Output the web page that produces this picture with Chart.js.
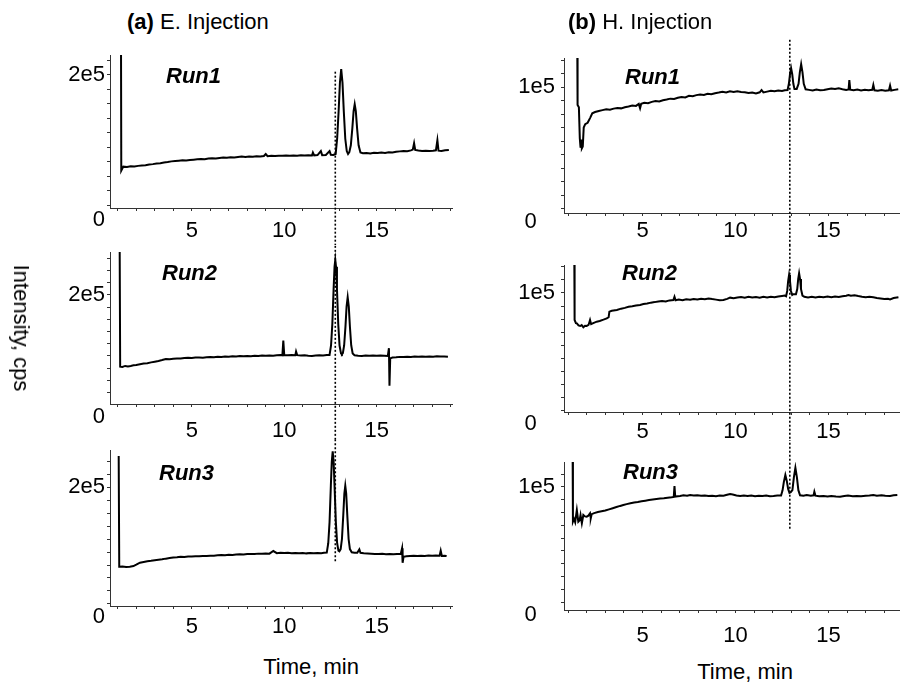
<!DOCTYPE html>
<html>
<head>
<meta charset="utf-8">
<script src="https://cdn.jsdelivr.net/npm/chart.js@4.4.1/dist/chart.umd.min.js"></script>
<style>
  html, body { margin:0; padding:0; background:#fff; width:900px; height:684px; overflow:hidden; }
  body { position:relative; font-family:"Liberation Sans", Arial, sans-serif; color:#000; }
  canvas { position:absolute; }
  .t { position:absolute; white-space:nowrap; font-size:22px; line-height:26px; }
  .run { position:absolute; white-space:nowrap; font-size:22px; line-height:26px; font-weight:bold; font-style:italic; }
</style>
</head>
<body>
<canvas id="e1" width="440" height="205" style="left:30px;top:40px"></canvas>
<canvas id="e2" width="440" height="195" style="left:30px;top:245px"></canvas>
<canvas id="e3" width="440" height="205" style="left:30px;top:440px"></canvas>
<canvas id="h1" width="420" height="215" style="left:480px;top:30px"></canvas>
<canvas id="h2" width="420" height="195" style="left:480px;top:245px"></canvas>
<canvas id="h3" width="420" height="210" style="left:480px;top:440px"></canvas>

<div class="t" style="left:127px;top:9px"><b>(a)</b> E. Injection</div>
<div class="t" style="left:568px;top:9px"><b>(b)</b> H. Injection</div>
<div class="t" style="left:21px;top:328px;transform:translate(-50%,-50%) rotate(90deg)">Intensity, cps</div>
<div class="t" style="left:311px;top:667px;transform:translate(-50%,-50%)">Time, min</div>
<div class="t" style="left:745px;top:672px;transform:translate(-50%,-50%)">Time, min</div>
<div class="run" style="left:166px;top:63px">Run1</div>
<div class="run" style="left:162px;top:260px">Run2</div>
<div class="run" style="left:159px;top:460px">Run3</div>
<div class="run" style="left:625px;top:64px">Run1</div>
<div class="run" style="left:622px;top:260px">Run2</div>
<div class="run" style="left:623px;top:459px">Run3</div>

<script>
// ---------- DATA (time in min, intensity in thousands of cps) ----------
const timeTicks = [1,2,3,4,5,6,7,8,9,10,11,12,13,14,15,16,17,18,19];
const timeTickLabels = [5, 10, 15];
const intensityTicksE = [0,20e3,40e3,60e3,80e3,100e3,120e3,140e3,160e3,180e3,200e3,220e3,240e3,260e3];
const intensityLabelsE = [0, 200e3];
const intensityTicksH = [0,10e3,20e3,30e3,40e3,50e3,60e3,70e3,80e3,90e3,100e3,110e3,120e3];
const intensityLabelsH = [0, 100e3];

const markerTimeE = 12.76;
const markerTimeH = 12.92;
const markerSpanE = [[204.5e3, -1e6], [1e6, -1e6], [1e6, 85e3]];
const markerSpanH = [[135e3, -1e6], [1e6, -1e6], [1e6, 66.4e3]];

const eRun1Time = [1.17,1.19,1.30,1.50,1.70,1.90,2.10,2.30,2.50,2.70,2.90,3.10,3.30,3.50,3.70,3.90,4.10,4.30,4.50,4.70,4.90,5.10,5.30,5.50,5.70,5.90,6.10,6.30,6.50,6.70,6.90,7.10,7.30,7.50,7.70,7.90,8.10,8.30,8.50,8.70,8.90,9.00,9.10,9.30,9.50,9.70,9.90,10.10,10.30,10.50,10.70,10.90,11.10,11.30,11.50,11.55,11.62,11.80,11.98,12.05,12.25,12.45,12.52,12.65,12.78,12.86,12.94,13.01,13.08,13.15,13.22,13.30,13.38,13.45,13.52,13.60,13.68,13.75,13.81,13.87,13.94,14.02,14.12,14.25,14.45,14.65,14.85,15.05,15.25,15.45,15.65,15.85,16.05,16.25,16.45,16.65,16.85,16.95,17.02,17.08,17.25,17.45,17.65,17.85,18.05,18.20,18.28,18.34,18.50,18.70,18.90];
const eRun1Intensity = [300,68,73.5,73,74,73.8,74.6,75,75.5,76.4,77,77.8,78.3,79.2,79.8,80.8,81.2,81.7,82.3,82.1,82.8,83.2,83.6,84.1,83.8,84.7,85,84.8,85.6,86,85.7,86.4,86.2,86.9,87.4,87,87.6,87.3,88,87.6,88.2,91,88,88.5,88.1,88.7,88.4,89,88.5,88.9,88.6,89.2,88.8,89.3,88.9,93,89.1,89.4,95,89.4,89.7,95,89.8,89.6,91,112,150,189,208,189,150,112,95,91,93.5,103,126,150,159.5,150,126,103,93,92,92.5,91.8,92.6,92.2,93,92.5,93.3,92.9,94,94.6,95.2,94.8,96,97,105.8,96.5,95.8,95.2,95.6,95,95.4,96,110,95.5,95,96,96.5];

const eRun2Time = [1.10,1.13,1.25,1.40,1.55,1.70,1.85,2.00,2.20,2.40,2.60,2.80,3.00,3.20,3.40,3.60,3.80,4.00,4.20,4.40,4.60,4.80,5.00,5.20,5.40,5.60,5.80,6.00,6.20,6.40,6.60,6.80,7.00,7.20,7.40,7.60,7.80,8.00,8.20,8.40,8.60,8.80,9.00,9.20,9.40,9.60,9.80,9.90,9.95,10.00,10.20,10.40,10.60,10.64,10.70,10.90,11.10,11.30,11.50,11.70,11.90,12.10,12.30,12.45,12.53,12.60,12.67,12.72,12.76,12.80,12.85,12.92,12.99,13.07,13.12,13.17,13.24,13.31,13.37,13.43,13.49,13.55,13.62,13.70,13.80,14.00,14.20,14.40,14.60,14.80,15.00,15.20,15.40,15.60,15.66,15.69,15.73,15.85,16.05,16.25,16.45,16.65,16.85,17.05,17.25,17.45,17.65,17.85,18.05,18.25,18.45,18.65,18.85];
const eRun2Intensity = [300,82.4,82,83.6,82.8,83.5,84.6,85.2,86.3,87.5,88,89.4,90.6,91.8,93.2,95,94.6,95.3,95.9,95.6,96.4,96.9,96.5,97.2,97.5,97.1,97.8,98.3,97.9,98.6,98.2,98.9,98.8,99.4,99,99.7,99.3,100,99.6,100.3,100,100.5,100.2,100.8,100.4,101.2,101.6,101,125,101.4,101,101.5,101,107,101.2,100.6,101,100.4,100,100.6,101,100.7,101.3,101.5,117,152,210,246,257,246,210,152,117,104,102.7,104.5,117.5,148,180.5,196,180.5,148,117.5,104,101,100.4,100,100.5,100.1,100.6,100.2,100.7,100.3,100,112.6,51.3,96,97.4,97.8,98.4,98.1,98.7,98.4,98.9,98.6,99.1,98.7,99.2,98.8,99.3,98.9,99.2,98.8];

const eRun3Time = [1.05,1.08,1.25,1.45,1.65,1.85,2.00,2.20,2.40,2.60,2.80,3.00,3.20,3.40,3.60,3.80,4.00,4.20,4.40,4.60,4.80,5.00,5.20,5.40,5.60,5.80,6.00,6.20,6.40,6.60,6.80,7.00,7.20,7.40,7.60,7.80,8.00,8.20,8.40,8.60,8.80,9.00,9.20,9.41,9.60,9.80,10.00,10.20,10.40,10.60,10.80,11.00,11.20,11.40,11.60,11.80,12.00,12.15,12.30,12.38,12.45,12.52,12.57,12.62,12.67,12.72,12.79,12.86,12.93,12.98,13.05,13.12,13.19,13.25,13.30,13.35,13.41,13.48,13.55,13.65,13.80,13.95,14.06,14.12,14.30,14.50,14.70,14.90,15.10,15.30,15.50,15.70,15.90,16.10,16.30,16.37,16.40,16.45,16.60,16.80,17.00,17.20,17.40,17.60,17.80,18.00,18.20,18.40,18.46,18.52,18.65,18.78];
const eRun3Intensity = [247.6,77.4,77.8,77,77.4,78.4,80.5,83.5,84.6,85.8,86.5,87.4,88,88.7,89.8,90.6,91.5,92,92.7,92.4,93.2,93,93.6,93.3,94,93.8,94.4,94.3,94.9,95.4,95,95.8,95.5,96.1,96.6,96.2,96.9,97.1,96.8,97.5,97.2,97.8,97.4,101.5,98.2,98.9,98.4,98.8,98.2,98.6,98,98.4,97.9,98.3,98,98.5,98.2,98.8,99,113.5,146,202,239,255,239,202,146,113.5,102,101,104.5,120,156,190,202,190,156,120,104.5,99.5,99,98.9,104,98.8,98.2,97.8,97.4,97.1,96.9,97.2,96.7,97,96.5,96.9,97,105.6,83.5,92.7,93.4,94,94.3,93.8,94.4,94,94.5,94.1,94.6,94.3,102,94,94.4,93.8];

const hRun1Time = [1.49,1.51,1.58,1.63,1.67,1.71,1.74,1.79,1.84,1.92,2.05,2.18,2.30,2.45,2.65,2.85,3.05,3.25,3.45,3.65,3.85,4.05,4.25,4.45,4.65,4.80,4.87,4.93,5.10,5.30,5.50,5.70,5.90,6.10,6.30,6.50,6.70,6.90,7.10,7.30,7.50,7.70,7.90,8.10,8.30,8.50,8.70,8.90,9.10,9.30,9.50,9.70,9.90,10.10,10.30,10.50,10.70,10.90,11.10,11.30,11.40,11.50,11.70,11.90,12.10,12.30,12.50,12.65,12.80,12.87,12.93,12.99,13.05,13.11,13.17,13.29,13.39,13.46,13.53,13.60,13.67,13.77,13.95,14.15,14.35,14.55,14.75,14.95,15.15,15.35,15.55,15.75,15.95,16.08,16.12,16.17,16.35,16.55,16.75,16.95,17.15,17.35,17.41,17.47,17.65,17.85,18.05,18.25,18.31,18.37,18.55,18.75];
const hRun1Intensity = [140,86.7,85,62,55,61,54.6,56,70,72.5,73.5,77,80.5,81.5,82.3,82.9,83.5,83.2,84,84.5,84.2,85,85.6,86.3,86,87.5,84.3,87.6,88.3,88,89,89.6,89.3,90.2,90.7,91.4,91.1,92,92.6,92.3,93.5,93.2,94,94.4,94.1,95,94.6,95.4,95.9,96.5,96,96.8,96.3,96.9,96.4,96.1,95.6,95.9,95.2,96.1,97.8,96,96.6,97.2,96.8,97.4,97.1,97.6,97.8,102.4,109.5,113.9,109.5,102.4,98.5,98.6,102.4,111,116.9,111,102.4,98.3,97.9,97.4,98.1,97.6,97.8,98.4,98.9,98.5,99,98.4,97.9,98.2,105.2,98,97.6,98.1,97.5,98,97.6,97.9,101.5,97.6,97.2,97.8,97.3,97.6,101,97.4,97.9,98.3];

const hRun2Time = [1.33,1.35,1.42,1.47,1.56,1.65,1.73,1.82,1.91,2.00,2.10,2.18,2.24,2.35,2.54,2.70,2.90,3.08,3.18,3.22,3.35,3.62,3.85,4.05,4.25,4.45,4.65,4.87,5.05,5.25,5.45,5.65,5.85,6.05,6.25,6.45,6.66,6.72,6.78,6.95,7.15,7.35,7.56,7.75,7.95,8.15,8.35,8.55,8.75,8.95,9.15,9.35,9.55,9.71,9.90,10.10,10.30,10.50,10.70,10.90,11.10,11.30,11.50,11.70,11.90,12.10,12.30,12.50,12.65,12.72,12.78,12.83,12.88,12.93,12.98,13.05,13.11,13.25,13.32,13.37,13.42,13.47,13.52,13.60,13.70,13.90,14.10,14.30,14.50,14.73,14.95,15.15,15.35,15.55,15.75,15.95,16.07,16.20,16.40,16.60,16.80,17.00,17.20,17.41,17.60,17.80,18.00,18.20,18.31,18.50,18.76];
const hRun2Intensity = [140,79.4,77,76.8,75.2,74.8,75.5,73.8,75,74.8,75.6,79.4,76.2,77,78.1,78.6,79.6,80.6,81.5,85.7,86.4,87,88,88.6,89.5,89.9,90.4,90.8,91.5,92,92.6,93,93.5,93.8,93.5,94.3,94.6,97.1,94.4,94.9,94.5,95.2,94.8,95.4,95,95.6,95.2,95.8,95.3,94.9,94.5,94.6,95.5,96.4,96,96.5,96.9,96.4,97,96.5,96.9,96.4,97,96.6,97.1,96.7,97.3,97.7,98,97.5,101.5,109,113.7,109,101.5,98.5,99,99,103,110.6,115,110.6,103,98,97.1,96.6,97,96.5,97.1,96.7,97.2,96.8,97.3,96.9,97.4,97.9,98.4,97.8,98.2,97.6,97.1,96.8,97,96.7,96.2,95.8,95.3,95.6,95.1,96.1,96.7];

const hRun3Time = [1.24,1.26,1.32,1.38,1.47,1.55,1.62,1.67,1.74,1.82,1.91,2.00,2.09,2.18,2.22,2.27,2.40,2.60,2.80,3.00,3.20,3.40,3.60,3.80,3.97,4.15,4.35,4.55,4.75,4.95,5.15,5.35,5.55,5.75,5.95,6.15,6.35,6.57,6.68,6.72,6.76,6.90,7.02,7.20,7.40,7.56,7.75,7.95,8.15,8.35,8.55,8.75,8.95,9.15,9.35,9.55,9.71,9.85,10.05,10.25,10.45,10.65,10.85,11.05,11.25,11.45,11.65,11.85,12.04,12.25,12.45,12.53,12.60,12.68,12.76,12.83,12.90,12.97,13.06,13.14,13.22,13.30,13.38,13.47,13.65,13.83,14.05,14.20,14.24,14.30,14.50,14.73,14.95,15.15,15.40,15.62,15.85,16.05,16.30,16.52,16.75,17.00,17.20,17.41,17.60,17.85,18.05,18.31,18.50,18.70];
const hRun3Intensity = [140,72.9,75,72.5,82,72.9,74,78.1,71.6,78.1,77,76.8,77.6,79.4,75.6,78.8,79.6,80.4,81,81.6,82.5,83.4,84.3,85.2,85.9,86.6,87.2,87.8,88.2,88.8,89.3,89.8,90.2,90.6,91,91.2,91.6,91.9,92.2,100.7,92.5,92.8,93,93.5,93.2,93.7,93.3,93.6,93.1,93.4,92.9,93.2,92.8,93.3,93.1,93.9,94.5,94.1,93.3,93,93.4,92.9,93.3,92.8,93.2,92.9,93.3,92.8,93,93.3,93.3,97.4,104,109.3,104.5,98.5,95.5,96,97.6,107.7,115,107.7,97.5,93.5,93.2,93.7,93.2,93.5,96.3,93.2,92.8,93,92.5,93,92.6,92.4,92.9,93.3,92.8,93,92.7,93.2,93.4,93.7,93.2,93.6,93.1,93,93.5,93.7];

// ---------- CHART BUILDER ----------
const FONT = { family: '"Liberation Sans", Arial, sans-serif', size: 22 };
const INK = '#000';
const AXIS = '#333';

function zeroPad(s) { s.paddingTop = 0; s.paddingBottom = 0; s.paddingLeft = 0; s.paddingRight = 0; }

function panel(id, p) {
  const pts = p.time.map((t, i) => ({ x: t, y: p.kcps[i] * 1000 }));
  new Chart(document.getElementById(id), {
    type: 'line',
    data: {
      datasets: [
        { data: pts, borderColor: INK, borderWidth: 2, pointRadius: 0, tension: 0, fill: false },
        { data: [{ x: p.marker, y: p.span[0] }, { x: p.marker, y: p.span[1] }],
          borderColor: INK, borderWidth: 1.6, borderDash: [2, 2], pointRadius: 0, fill: false, clip: false }
      ]
    },
    options: {
      animation: false, responsive: false, devicePixelRatio: 1, events: [],
      layout: { padding: { top: p.padTop, right: p.padRight, left: 0, bottom: 0 } },
      plugins: { legend: { display: false }, tooltip: { enabled: false } },
      scales: {
        x: {
          type: 'linear', min: p.xMin, max: p.xMax,
          afterBuildTicks: s => { s.ticks = timeTicks.filter(v => v >= s.min && v <= s.max).map(v => ({ value: v })); },
          afterFit: s => { s.height = p.xH; zeroPad(s); },
          ticks: { autoSkip: false, maxRotation: 0, font: FONT, color: INK, padding: p.xPad,
                   callback: v => timeTickLabels.includes(v) ? String(v) : '' },
          grid: { drawOnChartArea: false, tickLength: 3, color: AXIS },
          border: { color: AXIS, width: 1 }
        },
        y: {
          type: 'linear', min: p.yMin, max: p.yMax,
          afterBuildTicks: s => { s.ticks = p.yTicks.filter(v => v <= s.max).map(v => ({ value: v })); },
          afterFit: s => { s.width = p.yW; zeroPad(s); },
          ticks: { autoSkip: false, font: FONT, color: INK, padding: p.yPad,
                   callback: v => p.yLabels.includes(v) ? (v === 0 ? p.zeroText : p.topText) : '' },
          grid: { drawOnChartArea: false, tickLength: 3,
                  color: c => (c.tick && c.tick.value < c.scale.min) ? 'rgba(0,0,0,0)' : AXIS },
          border: { color: AXIS, width: 1 }
        }
      }
    }
  });
}

const leftCommon = { xMin: 0.58, xMax: 19.07, yW: 80, padRight: 18, yPad: 2,
                     yTicks: intensityTicksE, yLabels: intensityLabelsE, zeroText: '0', topText: '2e5', marker: markerTimeE };
const rightCommon = { xMin: 0.78, xMax: 18.79, yW: 84, padRight: 1, yPad: 6,
                      yTicks: intensityTicksH, yLabels: intensityLabelsH, zeroText: '0   ', topText: '1e5', marker: markerTimeH };

panel('e1', Object.assign({}, leftCommon, { time: eRun1Time, kcps: eRun1Intensity, span: markerSpanE[0],
  yMin: 16.5e3, yMax: 227.5e3, padTop: 15, xH: 37, xPad: 7 }));
panel('e2', Object.assign({}, leftCommon, { time: eRun2Time, kcps: eRun2Intensity, span: markerSpanE[1],
  yMin: 21.3e3, yMax: 270e3, padTop: 7, xH: 36, xPad: 11 }));
panel('e3', Object.assign({}, leftCommon, { time: eRun3Time, kcps: eRun3Intensity, span: markerSpanE[2],
  yMin: 16.9e3, yMax: 257e3, padTop: 10, xH: 39, xPad: 5 }));
panel('h1', Object.assign({}, rightCommon, { time: hRun1Time, kcps: hRun1Intensity, span: markerSpanH[0],
  yMin: 6.7e3, yMax: 121.5e3, padTop: 28, xH: 32, xPad: 2 }));
panel('h2', Object.assign({}, rightCommon, { time: hRun2Time, kcps: hRun2Intensity, span: markerSpanH[1],
  yMin: 9.2e3, yMax: 121.3e3, padTop: 20, xH: 28, xPad: 4 }));
panel('h3', Object.assign({}, rightCommon, { time: hRun3Time, kcps: hRun3Intensity, span: markerSpanH[2],
  yMin: 3.9e3, yMax: 119.5e3, padTop: 22, xH: 40, xPad: 10 }));
</script>
</body>
</html>
